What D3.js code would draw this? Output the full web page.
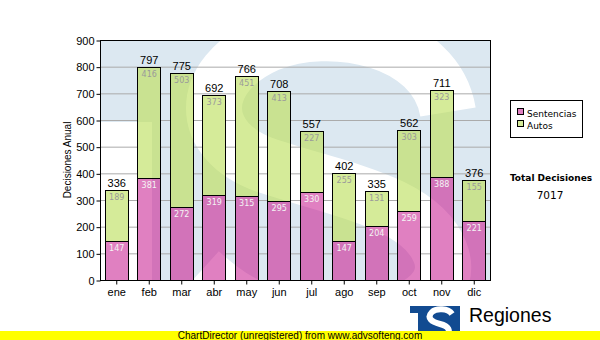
<!DOCTYPE html>
<html><head><meta charset="utf-8">
<script src="https://cdn.jsdelivr.net/npm/d3@7"></script>
<style>
html,body{margin:0;padding:0;background:#fff;}
svg{display:block;}
</style></head>
<body>
<svg id="chart" width="600" height="340"></svg>
<script>
const months = ["ene","feb","mar","abr","may","jun","jul","ago","sep","oct","nov","dic"];
const sentencias = [147,381,272,319,315,295,330,147,204,259,388,221];
const autos = [189,416,503,373,451,413,227,255,131,303,323,155];
const seriesNames = ["Sentencias","Autos"];
const yTicks = [0,100,200,300,400,500,600,700,800,900];
const totalLabel = "Total Decisiones";
const axisTitle = "Decisiones Anual";
const footer = "ChartDirector (unregistered) from www.advsofteng.com";
const logoText = "Regiones";

const svg = d3.select("#chart");
const W = 600, H = 340;
const m = {l:100, t:40, r:490, b:280};

const x = d3.scaleBand().domain(months).range([m.l, m.r]).paddingInner(0.28).paddingOuter(0.14);
const y = d3.scaleLinear().domain([0,900]).range([m.b, m.t]);

const colDark = {Sentencias:"#d273b9", Autos:"#c9e291"};
const colLight = {Sentencias:"#e080c1", Autos:"#d5eb99"};
const bgBlue = "#dce8f1";

const defs = svg.append("defs");
defs.append("clipPath").attr("id","plotClip").append("rect")
  .attr("x",m.l).attr("y",m.t).attr("width",m.r-m.l).attr("height",m.b-m.t);

// watermark "S" shape (white regions)
const sPath = "M 448,112 C 436,38 330,18 268,44 C 196,76 196,142 268,166 C 340,190 420,202 440,252 C 460,302 380,334 300,322 C 250,314 222,292 200,272";
const wmClip = defs.append("clipPath").attr("id","wmClip");
wmClip.append("rect").attr("x",m.l).attr("y",122).attr("width",52).attr("height",m.b-122);

// plot background
const plot = svg.append("g").attr("clip-path","url(#plotClip)");
plot.append("rect").attr("x",m.l).attr("y",m.t).attr("width",m.r-m.l).attr("height",m.b-m.t).attr("fill",bgBlue);
plot.append("rect").attr("x",m.l).attr("y",122).attr("width",52).attr("height",m.b-122).attr("fill","#fff");
plot.append("path").attr("d",sPath).attr("fill","none").attr("stroke","#fff").attr("stroke-width",56);

// grid
svg.append("g").selectAll("line").data(yTicks.filter(d=>d>0 && d<900)).join("line")
  .attr("x1",m.l).attr("x2",m.r).attr("y1",d=>y(d)+0.5).attr("y2",d=>y(d)+0.5)
  .attr("stroke","#ababab").attr("stroke-width",1);

// stacked data
const rows = months.map((mo,i)=>({m:mo, Sentencias:sentencias[i], Autos:autos[i]}));
const stack = d3.stack().keys(seriesNames)(rows);

function drawBars(g, colors){
  g.selectAll("g").data(stack).join("g").attr("fill",s=>colors[s.key])
    .selectAll("rect").data(s=>s).join("rect")
    .attr("x",d=>Math.round(x(d.data.m))+0.5)
    .attr("y",d=>Math.round(y(d[1]))+0.5)
    .attr("width",Math.round(x.bandwidth()))
    .attr("height",d=>Math.round(y(d[0]))-Math.round(y(d[1])));
}
drawBars(svg.append("g"), colDark);
// lighter version where the watermark is white
const lightG = svg.append("g").attr("mask","url(#wmMask)");
const mask = defs.append("mask").attr("id","wmMask");
mask.append("rect").attr("x",0).attr("y",0).attr("width",W).attr("height",H).attr("fill","#000");
mask.append("rect").attr("x",m.l).attr("y",122).attr("width",52).attr("height",m.b-122).attr("fill","#fff");
mask.append("path").attr("d",sPath).attr("fill","none").attr("stroke","#fff").attr("stroke-width",56);
drawBars(lightG, colLight);
// outlines
const outline = svg.append("g");
outline.selectAll("g").data(stack).join("g")
  .selectAll("rect").data(s=>s).join("rect")
  .attr("x",d=>Math.round(x(d.data.m))+0.5)
  .attr("y",d=>Math.round(y(d[1]))+0.5)
  .attr("width",Math.round(x.bandwidth()))
  .attr("height",d=>Math.round(y(d[0]))-Math.round(y(d[1])))
  .attr("fill","none").attr("stroke","#000").attr("stroke-width",1);

// inner labels
const lab = svg.append("g").attr("font-family","'DejaVu Sans', Verdana, sans-serif").attr("font-size",8).attr("text-anchor","middle");
stack.forEach(s=>{
  lab.append("g").attr("fill", s.key==="Autos" ? "#9a9a9a" : "#f4f4f4")
    .selectAll("text").data(s).join("text")
    .attr("x",d=>x(d.data.m)+x.bandwidth()/2+0.5)
    .attr("y",d=>y(d[1])+10)
    .text(d=>d[1]-d[0]);
});
// totals
svg.append("g").attr("font-family","'Liberation Sans', Arial, sans-serif").attr("font-size",11).attr("text-anchor","middle").attr("fill","#000")
  .selectAll("text").data(rows).join("text")
  .attr("x",d=>x(d.m)+x.bandwidth()/2+0.5)
  .attr("y",d=>y(d.Sentencias+d.Autos)-3)
  .text(d=>d.Sentencias+d.Autos);

// frame
svg.append("rect").attr("x",m.l+0.5).attr("y",m.t+0.5).attr("width",m.r-m.l).attr("height",m.b-m.t)
  .attr("fill","none").attr("stroke","#000");

// axes
const yAxis = d3.axisLeft(y).tickValues(yTicks).tickSize(4).tickPadding(2);
const gy = svg.append("g").attr("transform",`translate(${m.l+0.5},0.5)`).call(yAxis);
gy.select(".domain").remove();
gy.selectAll("text").attr("font-family","'Liberation Sans', Arial, sans-serif").attr("font-size",11).attr("fill","#000");
gy.selectAll("line").attr("stroke","#000");

const xAxis = d3.axisBottom(x).tickSize(4).tickPadding(4);
const gx = svg.append("g").attr("transform",`translate(0.5,${m.b+0.5})`).call(xAxis);
gx.select(".domain").remove();
gx.selectAll("text").attr("font-family","'Liberation Sans', Arial, sans-serif").attr("font-size",11).attr("fill","#000");
gx.selectAll("line").attr("stroke","#000");

// y title
svg.append("text").attr("transform",`translate(71,${(m.t+m.b)/2}) rotate(-90)`)
  .attr("text-anchor","middle").attr("font-family","'Liberation Sans', Arial, sans-serif").attr("font-size",10).attr("fill","#000")
  .text(axisTitle);

// legend
const lg = svg.append("g");
lg.append("rect").attr("x",510.5).attr("y",100.5).attr("width",72).attr("height",37).attr("fill","#fff").attr("stroke","#000");
seriesNames.forEach((n,i)=>{
  lg.append("rect").attr("x",517.5).attr("y",108.5+i*12).attr("width",6).attr("height",6)
    .attr("fill",colLight[n]).attr("stroke","#000");
  lg.append("text").attr("x",527).attr("y",117+i*12).attr("font-family","'DejaVu Sans', Verdana, sans-serif")
    .attr("font-size",9).attr("fill","#000").text(n);
});

// total box
svg.append("text").attr("x",551).attr("y",181).attr("text-anchor","middle").attr("font-family","'DejaVu Sans', Verdana, sans-serif")
  .attr("font-size",9).attr("font-weight","bold").attr("fill","#000").text(totalLabel);
svg.append("text").attr("x",550).attr("y",199).attr("text-anchor","middle").attr("font-family","'DejaVu Sans', Verdana, sans-serif")
  .attr("font-size",10.5).attr("fill","#000").text(d3.sum(sentencias)+d3.sum(autos));

// logo
const logo = svg.append("g");
logo.append("rect").attr("x",410).attr("y",306).attr("width",50).attr("height",34).attr("fill","#124b91");
logo.append("rect").attr("x",410).attr("y",313).attr("width",8).attr("height",27).attr("fill","#fff");
logo.append("path").attr("d","M 452,314 C 448,308 436,308 432,312 C 426,318 432,322 440,324 C 448,326 452,330 446,338 C 440,344 430,340 426,336")
  .attr("fill","none").attr("stroke","#fff").attr("stroke-width",6);
logo.append("text").attr("x",469).attr("y",322).attr("font-family","'Liberation Sans', Arial, sans-serif")
  .attr("font-size",19.5).attr("fill","#000").text(logoText);

// footer
svg.append("rect").attr("x",0).attr("y",331).attr("width",W).attr("height",9).attr("fill","#ffff00");
svg.append("text").attr("x",300).attr("y",339).attr("text-anchor","middle").attr("font-family","'Liberation Sans', Arial, sans-serif")
  .attr("font-size",10).attr("fill","#000").text(footer);
</script>
</body></html>
